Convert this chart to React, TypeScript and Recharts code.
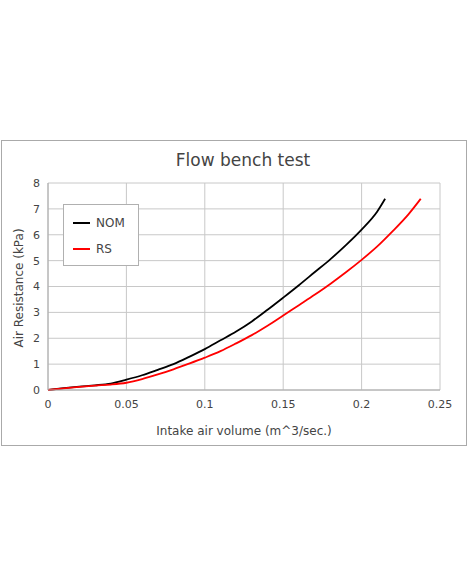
import React from "react";
import { LineChart, Line, XAxis, YAxis, CartesianGrid, Legend, Label } from "recharts";

const nomX = [0, 0.01, 0.02, 0.03, 0.04, 0.05, 0.06, 0.07, 0.08, 0.09, 0.1, 0.11, 0.12, 0.13, 0.14, 0.15, 0.16, 0.17, 0.18, 0.19, 0.2, 0.21, 0.215];
const nomY = [0, 0.07, 0.13, 0.18, 0.25, 0.4, 0.57, 0.78, 1.0, 1.28, 1.58, 1.92, 2.26, 2.65, 3.1, 3.57, 4.05, 4.55, 5.05, 5.6, 6.2, 6.9, 7.39];
const rsX = [0, 0.01, 0.02, 0.03, 0.04, 0.05, 0.06, 0.07, 0.08, 0.09, 0.1, 0.11, 0.12, 0.13, 0.14, 0.15, 0.16, 0.17, 0.18, 0.19, 0.2, 0.21, 0.22, 0.23, 0.2377];
const rsY = [0, 0.06, 0.12, 0.17, 0.21, 0.28, 0.42, 0.6, 0.8, 1.02, 1.25, 1.5, 1.8, 2.12, 2.48, 2.88, 3.28, 3.68, 4.1, 4.55, 5.03, 5.55, 6.15, 6.8, 7.39];
const xTicks = [0, 0.05, 0.1, 0.15, 0.2, 0.25];
const yTicks = [0, 1, 2, 3, 4, 5, 6, 7, 8];
const seriesNames = ["NOM", "RS"];
const seriesColors = ["#000000", "#ff0000"];

const nomData = nomX.map((x, i) => ({ x, y: nomY[i] }));
const rsData = rsX.map((x, i) => ({ x, y: rsY[i] }));

const FONT = "'DejaVu Sans', Verdana, sans-serif";
const TEXT = "#444444";

const renderLegend = () => (
  <div
    style={{
      width: 76,
      height: 62,
      border: "1px solid #b0b0b0",
      background: "#ffffff",
      boxSizing: "border-box",
      fontFamily: FONT,
      fontSize: 12,
      color: TEXT,
      position: "relative",
    }}
  >
    {seriesNames.map((n, i) => (
      <div key={n} style={{ position: "absolute", left: 9, top: 10 + i * 25.5, height: 16, display: "flex", alignItems: "center" }}>
        <div style={{ width: 17, height: 2, background: seriesColors[i] }} />
        <span style={{ marginLeft: 6 }}>{n}</span>
      </div>
    ))}
  </div>
);

export default function App() {
  return (
    <div style={{ position: "absolute", left: 0, top: 0, width: 470, height: 588, background: "#fff" }}>
      <div
        style={{
          position: "absolute",
          left: 1,
          top: 140,
          width: 466,
          height: 306,
          border: "1px solid #aaaaaa",
          boxSizing: "border-box",
        }}
      />
      <div
        style={{
          position: "absolute",
          left: 0,
          width: 486,
          top: 150,
          textAlign: "center",
          fontFamily: FONT,
          fontSize: 17,
          color: TEXT,
        }}
      >
        Flow bench test
      </div>
      <div style={{ position: "absolute", left: 0, top: 0 }}>
        <LineChart width={470} height={588} margin={{ top: 183, right: 30, bottom: 148, left: 8 }}>
          <CartesianGrid stroke="#c8c8c8" strokeWidth={1} />
          <XAxis
            type="number"
            dataKey="x"
            domain={[0, 0.25]}
            ticks={xTicks}
            tickFormatter={(v: number) => String(v)}
            axisLine={{ stroke: "#aaaaaa" }}
            tickLine={false}
            tick={{ fill: TEXT, fontSize: 11, fontFamily: FONT }}
            tickMargin={4}
            height={50}
            allowDataOverflow
          >
            <Label
              value="Intake air volume (m^3/sec.)"
              position="insideBottom"
              offset={5}
              fill={TEXT}
              fontSize={12}
              fontFamily={FONT}
            />
          </XAxis>
          <YAxis
            type="number"
            dataKey="y"
            domain={[0, 8]}
            ticks={yTicks}
            axisLine={{ stroke: "#aaaaaa" }}
            tickLine={false}
            tick={{ fill: TEXT, fontSize: 11, fontFamily: FONT }}
            tickMargin={2}
            width={40}
          />
          <Legend
            content={renderLegend}
            layout="horizontal"
            verticalAlign="middle"
            align="center"
            wrapperStyle={{ position: "absolute", left: 63, top: 204, width: 76 }}
          />
          <Line
            data={nomData}
            dataKey="y"
            name="NOM"
            type="monotone"
            stroke={seriesColors[0]}
            strokeWidth={1.8}
            dot={false}
            isAnimationActive={false}
          />
          <Line
            data={rsData}
            dataKey="y"
            name="RS"
            type="monotone"
            stroke={seriesColors[1]}
            strokeWidth={1.8}
            dot={false}
            isAnimationActive={false}
          />
        </LineChart>
      </div>
      <div
        style={{
          position: "absolute",
          left: 19,
          top: 288,
          transform: "translate(-50%, -50%) rotate(-90deg)",
          whiteSpace: "nowrap",
          fontFamily: FONT,
          fontSize: 12,
          color: TEXT,
        }}
      >
        Air Resistance (kPa)
      </div>
    </div>
  );
}
